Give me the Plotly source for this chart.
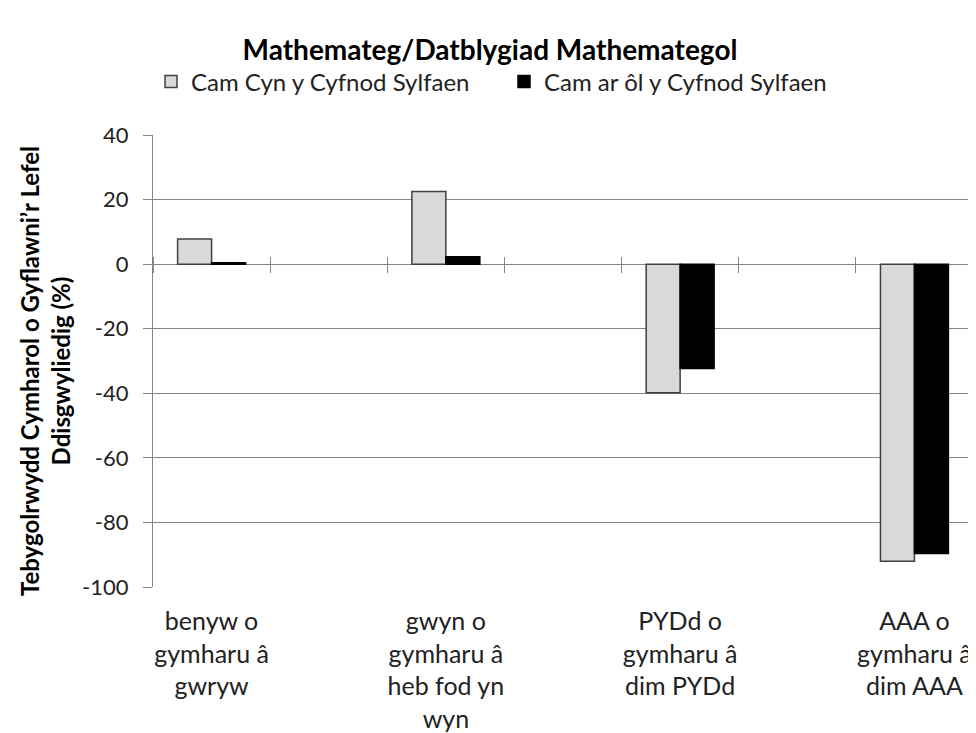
import plotly.graph_objects as go

# ---- data ----
group_labels = [
    "benyw o<br>gymharu â<br>gwryw",
    "gwyn o<br>gymharu â<br>heb fod yn<br>wyn",
    "PYDd o<br>gymharu â<br>dim PYDd",
    "AAA o<br>gymharu â<br>dim AAA",
]
series_names = ["Cam Cyn y Cyfnod Sylfaen", "Cam ar ôl y Cyfnod Sylfaen"]
cam_cyn = [7.8, 22.5, -39.8, -92.0]
cam_ar_ol = [0.4, 2.3, -32.3, -89.6]
y_ticks = [-100, -80, -60, -40, -20, 0, 20, 40]
y_tick_text = ["-100", "-80", "-60", "-40", "-20", "0", "20", "40"]

title_text = "Mathemateg/Datblygiad Mathemategol"
y_title = "Tebygolrwydd Cymharol o Gyflawni’r Lefel<br>Ddisgwyliedig (%)"

# the original chart has empty category slots between the groups
spacers = [" ", "  ", "   "]
categories = []
for i, g in enumerate(group_labels):
    categories.append(g)
    if i < len(spacers):
        categories.append(spacers[i])


def spread(vals):
    out = []
    for i, v in enumerate(vals):
        out.append(v)
        if i < len(spacers):
            out.append(None)
    return out


ymin, ymax = y_ticks[0], y_ticks[-1]
# the page body has an 8px margin, so the figure is drawn 8px in from the window corner
OFF = 8
W, H = 976 - OFF, 733 - OFF
ml, mr, mt, mb = 153 - OFF, 3, 135 - OFF, 146
plot_h = H - mt - mb
zero_frac = (0 - ymin) / (ymax - ymin)
tick_half = 8

grid_col = "#868686"
font_fam = "Lato, 'Open Sans', sans-serif"

fig = go.Figure()
fig.add_trace(go.Bar(
    x=categories, y=spread(cam_cyn), name=series_names[0],
    marker=dict(color="#d9d9d9", line=dict(color="#404040", width=1.5)),
))
fig.add_trace(go.Bar(
    x=categories, y=spread(cam_ar_ol), name=series_names[1],
    marker=dict(color="#000000", line=dict(color="#000000", width=1.5)),
))
# helper (invisible) trace carrying the boundary tick marks along the zero line
fig.add_trace(go.Bar(
    x=categories, y=[None] * len(categories), xaxis="x2", yaxis="y2",
    showlegend=False, hoverinfo="skip",
))

fig.update_layout(
    width=W, height=H,
    margin=dict(l=ml, r=mr, t=mt, b=mb, autoexpand=False),
    paper_bgcolor="white", plot_bgcolor="rgba(0,0,0,0)",
    font=dict(family=font_fam, color="#222222"),
    barmode="group", bargap=0.42, bargroupgap=0,
    title=dict(text=f"<b>{title_text}</b>", x=(490 - OFF) / W, xref="container",
               xanchor="center", y=1 - (50 - OFF) / H, yref="container", yanchor="middle",
               font=dict(size=28, color="#000000")),
    legend=dict(orientation="h", x=(504 - OFF) / W, xref="container", xanchor="center",
                y=1 - (82 - OFF) / H, yref="container", yanchor="middle",
                font=dict(size=24, color="#222222"), traceorder="normal",
                entrywidth=308, entrywidthmode="pixels"),
    xaxis=dict(type="category", categoryorder="array", categoryarray=categories,
               range=[-0.5, len(categories) - 0.5],
               showgrid=False, zeroline=False, showline=False, ticks="",
               tickfont=dict(size=25, color="#222222"), ticklabelstandoff=17),
    yaxis=dict(range=[ymin, ymax], tickvals=y_ticks, ticktext=y_tick_text,
               showgrid=True, gridcolor=grid_col,
               gridwidth=1.3, zeroline=True, zerolinecolor=grid_col, zerolinewidth=1.3,
               showline=True, linecolor=grid_col, linewidth=1.3, ticks="outside",
               ticklen=9, tickcolor=grid_col, tickwidth=1.3,
               tickfont=dict(size=22, color="#222222"), ticklabelstandoff=10),
    xaxis2=dict(type="category", categoryorder="array", categoryarray=categories,
                overlaying="x", anchor="y2", range=[-0.5, len(categories) - 0.5],
                tickson="boundaries", ticks="outside", ticklen=2 * tick_half,
                tickcolor=grid_col, tickwidth=1.3, showticklabels=False,
                showgrid=False, zeroline=False, showline=False),
    yaxis2=dict(domain=[zero_frac + tick_half / plot_h, 1], range=[0, 1], visible=False,
                anchor="x2"),
    annotations=[dict(text=f"<b>{y_title}</b>", textangle=-90, xref="paper", yref="paper",
                      x=0, y=0.5, xanchor="center", yanchor="middle",
                      xshift=(45 - 153), yshift=-10,
                      showarrow=False, font=dict(size=24, color="#000000"))],
)

fig.write_html("out.html")
